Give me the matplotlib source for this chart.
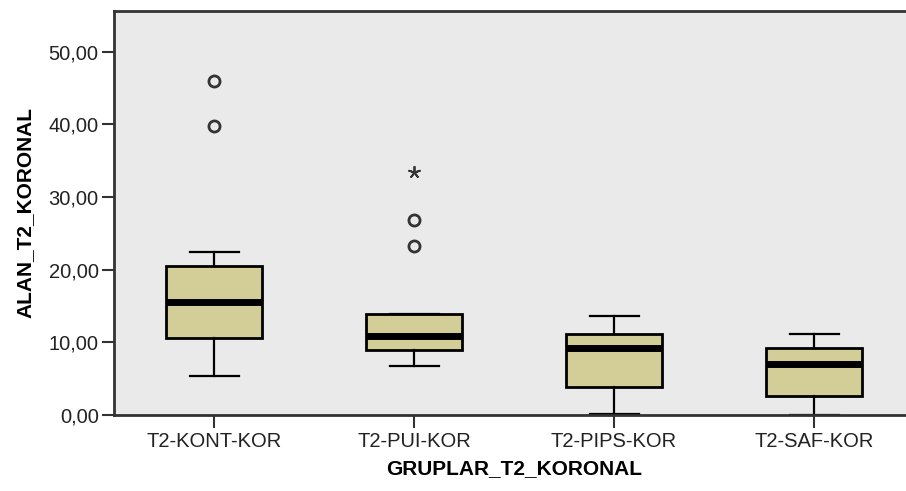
import numpy as np
import matplotlib.pyplot as plt

# SPSS-style boxplot, values
groups = ['T2-KONT-KOR', 'T2-PUI-KOR', 'T2-PIPS-KOR', 'T2-SAF-KOR']
whis_low = [5.4, 6.7, 0.1, 0.0]
q1 = [10.6, 8.9, 3.8, 2.6]
median = [15.6, 10.9, 9.2, 7.0]
q3 = [20.5, 13.9, 11.1, 9.2]
whis_high = [22.5, 13.9, 13.6, 11.2]
outliers = [[39.8, 45.9], [23.2, 26.8], [], []]
extremes = [[], [33.4], [], []]

stats = []
for i in range(len(groups)):
    stats.append(dict(med=median[i], q1=q1[i], q3=q3[i],
                      whislo=whis_low[i], whishi=whis_high[i], fliers=[]))

plt.rcParams['font.family'] = ['Liberation Sans', 'DejaVu Sans']

fig = plt.figure(figsize=(9.06, 4.91), dpi=100)
ax = fig.add_axes([114/906, 76/491, 800/906, 404/491])
ax.set_facecolor('#eaeaea')

pos = np.arange(len(groups))
ax.bxp(stats, positions=pos, widths=0.48, patch_artist=True, showfliers=False,
       boxprops=dict(facecolor='#d3ce98', edgecolor='black', linewidth=2),
       medianprops=dict(color='black', linewidth=5),
       whiskerprops=dict(color='black', linewidth=1.6),
       capprops=dict(color='black', linewidth=1.6),
       capwidths=0.245)

for i in range(len(groups)):
    if outliers[i]:
        ax.plot([pos[i]]*len(outliers[i]), outliers[i], 'o', ms=8, mfc='none',
                mec='#333333', mew=2, zorder=5)
    if extremes[i]:
        ax.plot([pos[i]]*len(extremes[i]), extremes[i], marker=(5, 2), ls='none',
                ms=9, color='#333333', mew=1.3, zorder=5)

ax.set_xlim(-0.5, 3.5)
ax.set_ylim(0, 55.6)
ax.set_yticks([0, 10, 20, 30, 40, 50])
ax.set_yticklabels(['0,00', '10,00', '20,00', '30,00', '40,00', '50,00'])
ax.set_xticks(pos)
ax.set_xticklabels(groups)
ax.tick_params(axis='both', length=9, width=1.5, color='#333333',
               labelsize=14.5, labelcolor='#222222')
ax.tick_params(axis='x', pad=3)
ax.tick_params(axis='y', pad=2)

for s in ['left', 'bottom', 'top']:
    ax.spines[s].set_color('#333333')
    ax.spines[s].set_linewidth(2)
ax.spines['right'].set_visible(False)

ax.set_xlabel('GRUPLAR_T2_KORONAL', fontsize=15, fontweight='bold', labelpad=6)
ax.set_ylabel('ALAN_T2_KORONAL', fontsize=15, fontweight='bold', labelpad=10)

fig.savefig('out.png', dpi=100)
